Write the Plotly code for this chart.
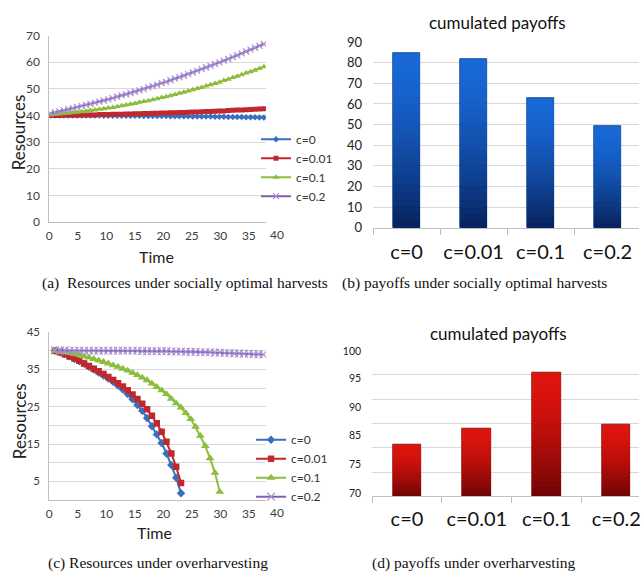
import plotly.graph_objects as go

# ---------------- data ----------------
series_names = ["c=0", "c=0.01", "c=0.1", "c=0.2"]

# (a) resources under socially optimal harvests
time_a = [round(0.2 + 0.78 * k, 2) for k in range(49)]
res_opt_c0 = [40.0, 40.0, 40.0, 40.0, 40.0, 40.0, 40.0, 40.0, 40.0, 40.0, 40.0, 40.0,
              39.9, 39.9, 39.9, 39.9, 39.9, 39.9, 39.9, 39.9, 39.9,
              39.8, 39.8, 39.8, 39.8, 39.8, 39.8, 39.7, 39.7, 39.7, 39.7, 39.7,
              39.6, 39.6, 39.6, 39.6, 39.6, 39.5, 39.5, 39.5,
              39.4, 39.4, 39.4, 39.4, 39.3, 39.3, 39.3, 39.2, 39.2]
res_opt_c001 = [40.0, 40.0, 40.0, 40.1, 40.1, 40.1, 40.1, 40.2, 40.2, 40.2, 40.2, 40.3,
                40.3, 40.3, 40.4, 40.4, 40.4, 40.5, 40.5, 40.6, 40.6, 40.7, 40.7, 40.8,
                40.8, 40.9, 40.9, 41.0, 41.0, 41.1, 41.1, 41.2, 41.3, 41.3, 41.4, 41.5,
                41.5, 41.6, 41.7, 41.7, 41.8, 41.9, 42.0, 42.0, 42.1, 42.2, 42.3, 42.4, 42.5]
res_opt_c01 = [40.2, 40.4, 40.5, 40.7, 40.8, 41.0, 41.2, 41.4, 41.6, 41.8, 42.0, 42.3,
               42.5, 42.8, 43.0, 43.3, 43.6, 43.9, 44.2, 44.5, 44.9, 45.2, 45.5, 45.9,
               46.3, 46.7, 47.0, 47.4, 47.9, 48.3, 48.7, 49.2, 49.6, 50.1, 50.5, 51.0,
               51.5, 52.0, 52.5, 53.1, 53.6, 54.2, 54.7, 55.3, 55.9, 56.4, 57.0, 57.6, 58.3]
res_opt_c02 = [40.8, 41.1, 41.5, 41.9, 42.3, 42.7, 43.1, 43.5, 43.9, 44.3, 44.7, 45.2,
               45.6, 46.0, 46.5, 47.0, 47.5, 47.9, 48.4, 48.9, 49.4, 49.9, 50.5, 51.0,
               51.5, 52.1, 52.6, 53.2, 53.8, 54.4, 54.9, 55.5, 56.1, 56.7, 57.4, 58.0,
               58.6, 59.3, 59.9, 60.6, 61.2, 61.9, 62.6, 63.3, 64.0, 64.7, 65.4, 66.1, 66.8]

# (c) resources under overharvesting
time_c = [round(1.0 + 0.85 * k, 2) for k in range(44)]
res_over_c0 = [40.0, 39.6, 39.1, 38.5, 37.8, 37.2, 36.5, 35.7, 35.0, 34.2, 33.4, 32.6,
               31.7, 30.7, 29.6, 28.4, 27.0, 25.5, 23.9, 22.0, 19.8, 17.6, 15.3, 12.5,
               9.4, 6.0, 1.8]
res_over_c001 = [40.0, 39.6, 39.1, 38.5, 37.9, 37.3, 36.6, 35.9, 35.2, 34.5, 33.8, 33.0,
                 32.2, 31.3, 30.4, 29.4, 28.3, 27.1, 25.8, 24.3, 22.6, 20.6, 18.3, 15.6,
                 12.5, 8.9, 4.6]
res_over_c01 = [40.0, 39.8, 39.6, 39.4, 39.1, 38.9, 38.5, 38.2, 37.8, 37.4, 37.0, 36.6,
                36.1, 35.7, 35.2, 34.7, 34.1, 33.5, 32.8, 32.1, 31.2, 30.3, 29.4, 28.4,
                27.1, 25.9, 24.8, 23.3, 21.7, 19.6, 17.2, 14.5, 11.2, 7.3, 2.2]
res_over_c02 = [40.1, 40.1, 40.1, 40.0, 40.0, 40.0, 40.0, 40.0, 40.0, 40.0, 40.0, 40.0,
                40.0, 40.0, 40.0, 40.0, 40.0, 40.0, 39.9, 39.9, 39.9, 39.9, 39.9, 39.9,
                39.8, 39.8, 39.8, 39.7, 39.7, 39.7, 39.6, 39.6, 39.6, 39.5, 39.5,
                39.4, 39.4, 39.3, 39.3, 39.2, 39.2, 39.1, 39.1, 39.0]

# (b), (d) cumulated payoffs
payoff_categories = ["c=0", "c=0.01", "c=0.1", "c=0.2"]
payoff_optimal = [84.5, 81.8, 63.0, 49.1]
payoff_over = [80.7, 84.0, 95.4, 84.8]

y_ticks_a = [0, 10, 20, 30, 40, 50, 60, 70]
x_ticks_line = [0, 5, 10, 15, 20, 25, 30, 35]
x_tick_last = 40
y_ticks_c = [5, 15, 25, 35, 45]
y_ticks_b = [0, 10, 20, 30, 40, 50, 60, 70, 80, 90]
y_ticktext_d = ["70", "75", "85", "90", "95", "100"]
y_tickpos_d = [70.6, 76.7, 82.5, 88.3, 94.3, 99.8]

# ---------------- styling ----------------
W, H = 641, 581
FONT = "Lato, 'Noto Sans', sans-serif"
SERIF = "'Liberation Serif', 'Times New Roman', serif"
GRID = "#d9d9d9"
AXIS = "#bfbfbf"
X_RANGE_LINE = [0, 38]

line_styles = [
    dict(color="#3a6fc0", symbol="diamond", msize=5),
    dict(color="#c0282d", symbol="square", msize=5),
    dict(color="#8cbd3c", symbol="triangle-up", msize=6),
    dict(color="#7e5fae", symbol="x-thin-open", msize=6),
]


def px_x(p):
    return p / W


def px_y(p):
    return 1 - p / H


line_xdomain = [px_x(46.7), px_x(265)]

fig = go.Figure()

opt_series = [res_opt_c0, res_opt_c001, res_opt_c01, res_opt_c02]
over_series = [res_over_c0, res_over_c001, res_over_c01, res_over_c02]


def add_lines(series, times, xa, ya, legend, msize_scale=1.0):
    for name, vals, st in zip(series_names, series, line_styles):
        marker = dict(symbol=st["symbol"], size=st["msize"] * msize_scale, color=st["color"])
        if st["symbol"].startswith("x-thin"):
            marker = dict(symbol=st["symbol"], size=st["msize"] * msize_scale,
                          color="#a88fd3", line=dict(color="#a88fd3", width=1.2))
        fig.add_trace(go.Scatter(
            x=times[:len(vals)], y=vals, name=name, mode="lines+markers",
            line=dict(color=st["color"], width=2), marker=marker,
            xaxis=xa, yaxis=ya, legend=legend))


add_lines(opt_series, time_a, "x", "y", "legend")
add_lines(over_series, time_c, "x3", "y3", "legend2", msize_scale=1.3)


def lerp(c1, c2, t):
    return "rgb({},{},{})".format(*[round(a + (b - a) * t) for a, b in zip(c1, c2)])


def add_gradient_bars(values, base, top_rgb, bottom_rgb, edge, width, xa, ya, n=24):
    # stack progressively shorter, darker bars to get a vertical shading
    for j in range(n):
        f = 1 - j / n
        shade = (j / (n - 1)) ** 1.5
        fig.add_trace(go.Bar(
            x=payoff_categories, y=[(v - base) * f for v in values], base=base,
            width=width, marker=dict(color=lerp(top_rgb, bottom_rgb, shade),
                                     line=dict(color=edge, width=0.8 if j == 0 else 0)),
            xaxis=xa, yaxis=ya, showlegend=False, hoverinfo="skip"))


add_gradient_bars(payoff_optimal, 0, (24, 104, 214), (8, 36, 96), "#0b3c86", 0.4, "x2", "y2")
add_gradient_bars(payoff_over, 70, (222, 20, 14), (112, 4, 4), "#7a0a0a", 0.41, "x4", "y4")

tick_font = dict(family=FONT, size=12, color="#404040")

line_xaxis = dict(range=X_RANGE_LINE, tickmode="array", tickvals=x_ticks_line, showgrid=False,
                  zeroline=False, showline=True, linecolor=AXIS, linewidth=1, ticks="",
                  tickfont=tick_font, ticklabelstandoff=3, domain=line_xdomain)

bar_xfont = dict(family=FONT, size=20, color="#111")

fig.update_layout(
    width=W, height=H, margin=dict(l=0, r=0, t=0, b=0),
    paper_bgcolor="white", plot_bgcolor="white",
    font=dict(family=FONT, color="#222"),
    barmode="overlay", bargap=0,
    xaxis=dict(line_xaxis, anchor="y"),
    yaxis=dict(domain=[px_y(220), px_y(28.3)], range=[0, 70], tickvals=y_ticks_a,
               showgrid=True, gridcolor=GRID, zeroline=False, showline=True,
               linecolor=AXIS, tickfont=tick_font, ticklabelstandoff=6, anchor="x"),
    xaxis3=dict(line_xaxis, anchor="y3"),
    yaxis3=dict(domain=[px_y(506), px_y(333.3)], range=[0, 45], tickmode="array",
                tickvals=y_ticks_c, showgrid=False, zeroline=False, showline=True,
                linecolor=AXIS, tickfont=dict(tick_font, size=11.5), ticklabelstandoff=6,
                minor=dict(tickmode="linear", tick0=0, dtick=5, showgrid=True,
                           gridcolor=GRID, ticks=""),
                anchor="x3"),
    xaxis2=dict(domain=[px_x(373), 1.0], range=[-0.5, 3.47], type="category",
                tickson="boundaries", ticks="outside", ticklen=6, tickcolor=AXIS,
                tickangle=0, showline=True, linecolor=AXIS, showgrid=False,
                zeroline=False, tickfont=bar_xfont, ticklabelstandoff=6, anchor="y2"),
    yaxis2=dict(domain=[px_y(226), px_y(35)], range=[0, 90], tickvals=y_ticks_b,
                showgrid=True, gridcolor=GRID, zeroline=False, showline=False,
                tickfont=dict(family=FONT, size=13, color="#222"), ticklabelstandoff=10,
                anchor="x2"),
    xaxis4=dict(domain=[px_x(372), 1.0], range=[-0.5, 3.326], type="category",
                tickson="boundaries", ticks="outside", ticklen=6, tickcolor=AXIS,
                tickangle=0, showline=True, linecolor=AXIS, showgrid=False,
                zeroline=False, tickfont=bar_xfont, ticklabelstandoff=5, anchor="y4"),
    yaxis4=dict(domain=[px_y(502.3), px_y(352.3)], range=[70, 100], tickmode="array",
                tickvals=y_tickpos_d, ticktext=y_ticktext_d, showgrid=False,
                zeroline=False, showline=False,
                tickfont=dict(family=FONT, size=10.5, color="#222"), ticklabelstandoff=10,
                minor=dict(tickmode="linear", tick0=70, dtick=5, showgrid=True,
                           gridcolor=GRID, ticks=""),
                anchor="x4"),
    legend=dict(x=px_x(255), y=px_y(120), xanchor="left", yanchor="top",
                bgcolor="rgba(255,255,255,0)", font=dict(family=FONT, size=12, color="#333"),
                tracegroupgap=0, itemwidth=30),
    legend2=dict(x=px_x(250), y=px_y(429), xanchor="left", yanchor="top",
                 bgcolor="rgba(255,255,255,0)", font=dict(family=FONT, size=12, color="#333"),
                 tracegroupgap=0, itemwidth=30),
)

annotations = [
    # axis titles
    dict(text="Resources", x=px_x(16), y=px_y(128), textangle=-90, font=dict(size=17)),
    dict(text="Time", x=px_x(155), y=px_y(256), font=dict(size=16)),
    dict(text="Resources", x=px_x(16), y=px_y(425), textangle=-90, font=dict(size=17)),
    dict(text="Time", x=px_x(153), y=px_y(539), font=dict(size=16)),
    # bar chart titles
    dict(text="cumulated payoffs", x=px_x(498), y=px_y(15), font=dict(size=17, color="#111")),
    dict(text="cumulated payoffs", x=px_x(499), y=px_y(335), font=dict(size=17, color="#111")),
    # captions
    dict(text="(a)  Resources under socially optimal harvests", x=px_x(183), y=px_y(283),
         font=dict(family=SERIF, size=15.5, color="#111")),
    dict(text="(b) payoffs under socially optimal harvests", x=px_x(475), y=px_y(283),
         font=dict(family=SERIF, size=15.5, color="#111")),
    dict(text="(c) Resources under overharvesting", x=px_x(156), y=px_y(571),
         font=dict(family=SERIF, size=15.5, color="#111")),
    dict(text="(d) payoffs under overharvesting", x=px_x(475), y=px_y(571),
         font=dict(family=SERIF, size=15.5, color="#111")),
]
for a in annotations:
    a.update(xref="paper", yref="paper", showarrow=False, xanchor="center", yanchor="middle")
    fig.add_annotation(**a)

# last time tick sits just past the plotted range
frac = (x_tick_last - X_RANGE_LINE[0]) / (X_RANGE_LINE[1] - X_RANGE_LINE[0])
x_last = line_xdomain[0] + (line_xdomain[1] - line_xdomain[0]) * frac
for ya in ("y domain", "y3 domain"):
    fig.add_annotation(text=str(x_tick_last), xref="paper", yref=ya, x=x_last, y=0,
                       xanchor="center", yanchor="top", yshift=-3, showarrow=False,
                       font=tick_font)

fig.write_html("out.html")
